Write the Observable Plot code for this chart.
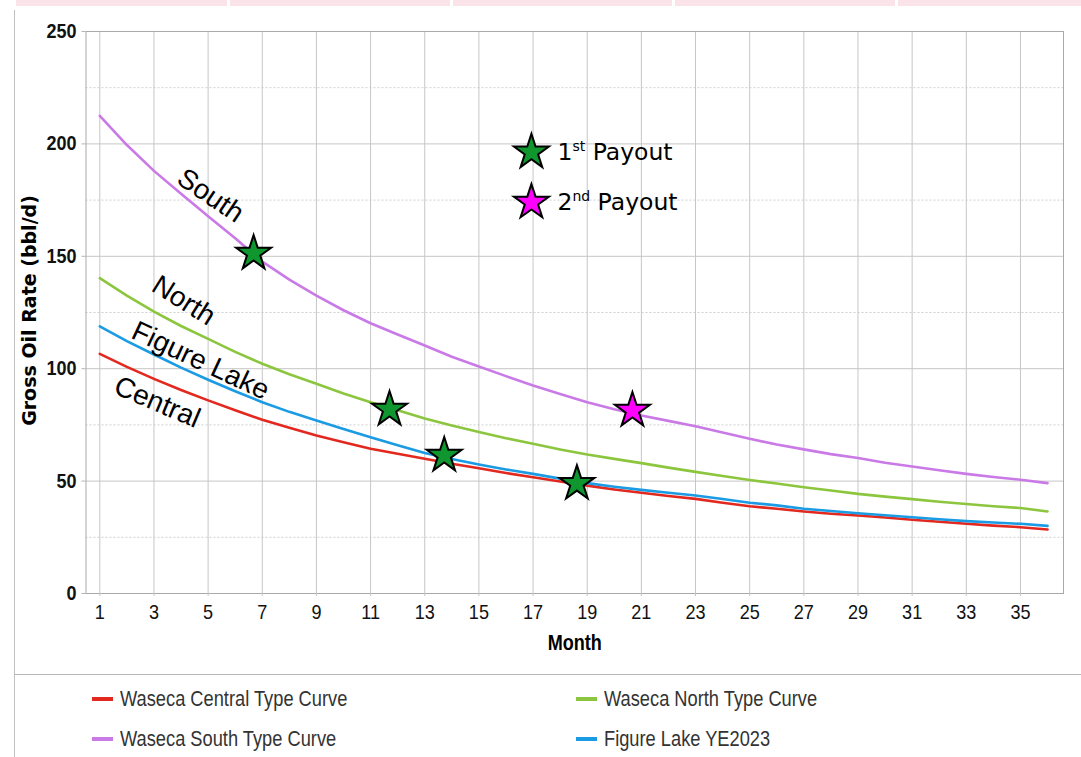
<!DOCTYPE html>
<html><head><meta charset="utf-8">
<script src="https://cdn.jsdelivr.net/npm/d3@7"></script>
<script src="https://cdn.jsdelivr.net/npm/@observablehq/plot@0.6"></script>
<style>
body{margin:0;background:#fff;}
#wrap{position:relative;width:1081px;height:757px;overflow:hidden;background:#fff;}
.pink{position:absolute;top:0;height:6px;background:#fae4ea;}
#vline{position:absolute;left:14px;top:10px;width:1px;height:747px;background:#c0c0c0;}
#chart{position:absolute;left:0;top:0;}
#legend{position:absolute;left:14px;top:674px;width:1067px;height:83px;border-top:1px solid #b8b8b8;}
.item{position:absolute;display:flex;align-items:center;transform:translateY(-50%);font-family:'Liberation Sans',Arial,sans-serif;font-size:22px;color:#333;white-space:nowrap;}
.sw{width:21px;height:3.5px;margin-right:7px;flex:none;}
.tx{display:inline-block;transform:scaleX(0.83);transform-origin:left center;}
</style></head>
<body>
<div id="wrap">
  <div class="pink" style="left:16px;width:211px"></div>
  <div class="pink" style="left:230px;width:220px"></div>
  <div class="pink" style="left:453px;width:219px"></div>
  <div class="pink" style="left:675px;width:220px"></div>
  <div class="pink" style="left:898px;width:183px"></div>
  <div id="vline"></div>
  <div id="chart"></div>
  <div id="legend"></div>
</div>
<script>
// ---- data ----
const months = [1,2,3,4,5,6,7,8,9,10,11,12,13,14,15,16,17,18,19,20,21,22,23,24,25,26,27,28,29,30,31,32,33,34,35,36];
const central = [106.6,100.8,95.5,90.5,85.9,81.5,77.3,73.7,70.3,67.3,64.4,62.2,59.9,57.7,55.7,53.6,51.7,49.8,48.0,46.3,44.8,43.4,42.1,40.4,38.8,37.7,36.5,35.5,34.7,33.8,32.8,31.9,31.0,30.2,29.5,28.5];
const north = [140.3,132.5,125.4,119.0,113.3,107.5,102.2,97.5,93.3,89.0,85.1,81.5,77.8,74.7,71.8,69.1,66.6,64.1,61.8,59.9,58.0,56.0,54.1,52.3,50.5,48.9,47.3,45.8,44.3,43.1,42.0,40.8,39.8,38.8,38.0,36.5];
const south = [212.5,199.5,188.0,177.8,167.8,158.0,147.6,139.6,132.5,126.0,120.2,115.2,110.3,105.3,101.0,96.7,92.5,88.7,85.1,82.0,79.2,76.8,74.4,71.6,68.8,66.3,64.1,62.0,60.3,58.2,56.5,54.8,53.2,51.8,50.6,49.1];
const figureLake = [118.8,112.3,106.3,100.5,95.1,90.0,85.1,80.8,77.0,73.2,69.5,66.0,62.5,59.8,57.4,55.2,53.2,51.1,49.1,47.5,46.1,44.8,43.6,42.0,40.4,39.2,37.7,36.7,35.7,34.8,33.9,33.0,32.2,31.6,31.0,30.1];

const seriesNames = ["Waseca Central Type Curve","Waseca North Type Curve","Waseca South Type Curve","Figure Lake YE2023"];
const seriesColors = ["#e3291f","#8cc63e","#c97ae6","#1b9be3"];

const xTicks = [1,3,5,7,9,11,13,15,17,19,21,23,25,27,29,31,33,35];
const yTicks = [0,50,100,150,200,250];
const yMinor = [25,75,125,175,225];

// payout stars (month, rate)
const firstPayoutM = [6.68, 11.7, 13.72, 18.62];
const firstPayoutV = [151.3, 81.9, 61.4, 48.9];
const secondPayoutM = [20.67];
const secondPayoutV = [81.4];

// annotation key
const payoutKeyM = [16.94, 16.94];
const payoutKeyV = [196.3, 174.0];
const payoutKeyFill = ["#10962f", "#ff00ff"];
const payoutKeyParts = [["1","st"," Payout"],["2","nd"," Payout"]];

// curve labels
const curveLabels = ["South","North","Figure Lake","Central"];
const curveLabelM = [5.09, 4.1, 4.72, 3.12];
const curveLabelV = [177.0, 130.3, 103.6, 85.1];
const curveLabelRot = [34, 32, 25, 23];

// ---- build ----
const SANS = "'Liberation Sans',Arial,sans-serif";
const allSeries = [central, north, south, figureLake];
const lineRows = allSeries.map(vals => months.map((m,i)=>({m, v: vals[i]})));
const drawOrder = [0,3,1,2];

const stars1 = firstPayoutM.map((m,i)=>({m, v:firstPayoutV[i]}));
const stars2 = secondPayoutM.map((m,i)=>({m, v:secondPayoutV[i]}));
const keyRows = payoutKeyM.map((m,i)=>({m, v:payoutKeyV[i], fill:payoutKeyFill[i], label:payoutKeyParts[i].join("")}));
const labelRows = curveLabels.map((t,i)=>({t, m:curveLabelM[i], v:curveLabelV[i], r:curveLabelRot[i]}));

const chart = Plot.plot({
  width: 1081,
  height: 675,
  marginLeft: 85.5,
  marginRight: 18,
  marginTop: 31,
  marginBottom: 82,
  style: {fontFamily: SANS, color: "#000", background: "transparent", overflow: "visible"},
  x: {domain: [0.49, 36.59]},
  y: {domain: [0, 250]},
  marks: [
    Plot.ruleY(yMinor, {stroke: "#cfcfcf", strokeDasharray: "2,2"}),
    Plot.gridX({ticks: xTicks, stroke: "#c6c6c6", strokeOpacity: 1}),
    Plot.gridY({ticks: yTicks, stroke: "#c6c6c6", strokeOpacity: 1}),
    Plot.frame({stroke: "#a9a9a9"}),
    Plot.axisX({ticks: xTicks, tickSize: 3, stroke: "#c6c6c6", tickPadding: 8, fontSize: 21, label: null, fill: "#111"}),
    Plot.axisY({ticks: yTicks, tickSize: 4, stroke: "#b5b5b5", tickPadding: 5.5, fontSize: 20, fontWeight: "bold", label: null, fill: "#111"}),
    ...drawOrder.map(k => Plot.line(lineRows[k], {x: "m", y: "v", stroke: seriesColors[k], strokeWidth: 2.6})),
    Plot.dot(stars1, {x: "m", y: "v", symbol: "star", r: 11, fill: "#10962f", stroke: "#000", strokeWidth: 2}),
    Plot.dot(stars2, {x: "m", y: "v", symbol: "star", r: 11, fill: "#ff00ff", stroke: "#000", strokeWidth: 2}),
    Plot.dot(keyRows, {x: "m", y: "v", symbol: "star", r: 11, fill: "fill", stroke: "#000", strokeWidth: 2}),
    Plot.text(keyRows, {x: "m", y: "v", text: "label", textAnchor: "start", dx: 26, fontSize: 23.5, fontFamily: "'DejaVu Sans',sans-serif", fill: "#000", className: "payout-label"}),
    Plot.text(labelRows, {x: "m", y: "v", text: "t", rotate: "r", fontSize: 28, fontFamily: SANS, fill: "#000"}),
    Plot.text(["Gross Oil Rate (bbl/d)"], {text: d => d, frameAnchor: "left", textAnchor: "middle", dx: -56, dy: -2, rotate: -90, fontSize: 19, fontWeight: "bold", fontFamily: "'DejaVu Sans',sans-serif", fill: "#000"}),
    Plot.text(["Month"], {text: d => d, frameAnchor: "bottom", dy: 56, fontSize: 22, fontWeight: "bold", fill: "#000", className: "month-label"})
  ]
});
document.getElementById("chart").appendChild(chart);

// condense tick labels like a narrow face
function condense(sel, k) {
  d3.select(chart).selectAll(sel).each(function() {
    const L = this.getComputedTextLength();
    this.setAttribute("textLength", (L * k).toFixed(2));
    this.setAttribute("lengthAdjust", "spacingAndGlyphs");
  });
}
condense('g[aria-label="x-axis tick label"] text', 0.86);
condense('g[aria-label="y-axis tick label"] text', 0.9);
condense('.month-label text', 0.82);

// superscripts in payout key
d3.select(chart).selectAll(".payout-label text").each(function(d, i) {
  const p = payoutKeyParts[i];
  const t = d3.select(this);
  t.text(null);
  t.append("tspan").text(p[0]);
  t.append("tspan").attr("font-size", 14).attr("dy", -9).text(p[1]);
  t.append("tspan").attr("dy", 9).text(p[2]);
});

// legend
const legendX = [78, 562, 78, 562];
const legendY = [24, 24, 64, 64];
const legendOrder = [0, 1, 2, 3];
const legend = document.getElementById("legend");
legendOrder.forEach((k, j) => {
  const it = document.createElement("div");
  it.className = "item";
  it.style.left = legendX[j] + "px";
  it.style.top = legendY[j] + "px";
  const sw = document.createElement("span");
  sw.className = "sw";
  sw.style.background = seriesColors[k];
  const tx = document.createElement("span");
  tx.className = "tx";
  tx.textContent = seriesNames[k];
  it.appendChild(sw); it.appendChild(tx);
  legend.appendChild(it);
});
</script>
</body></html>
